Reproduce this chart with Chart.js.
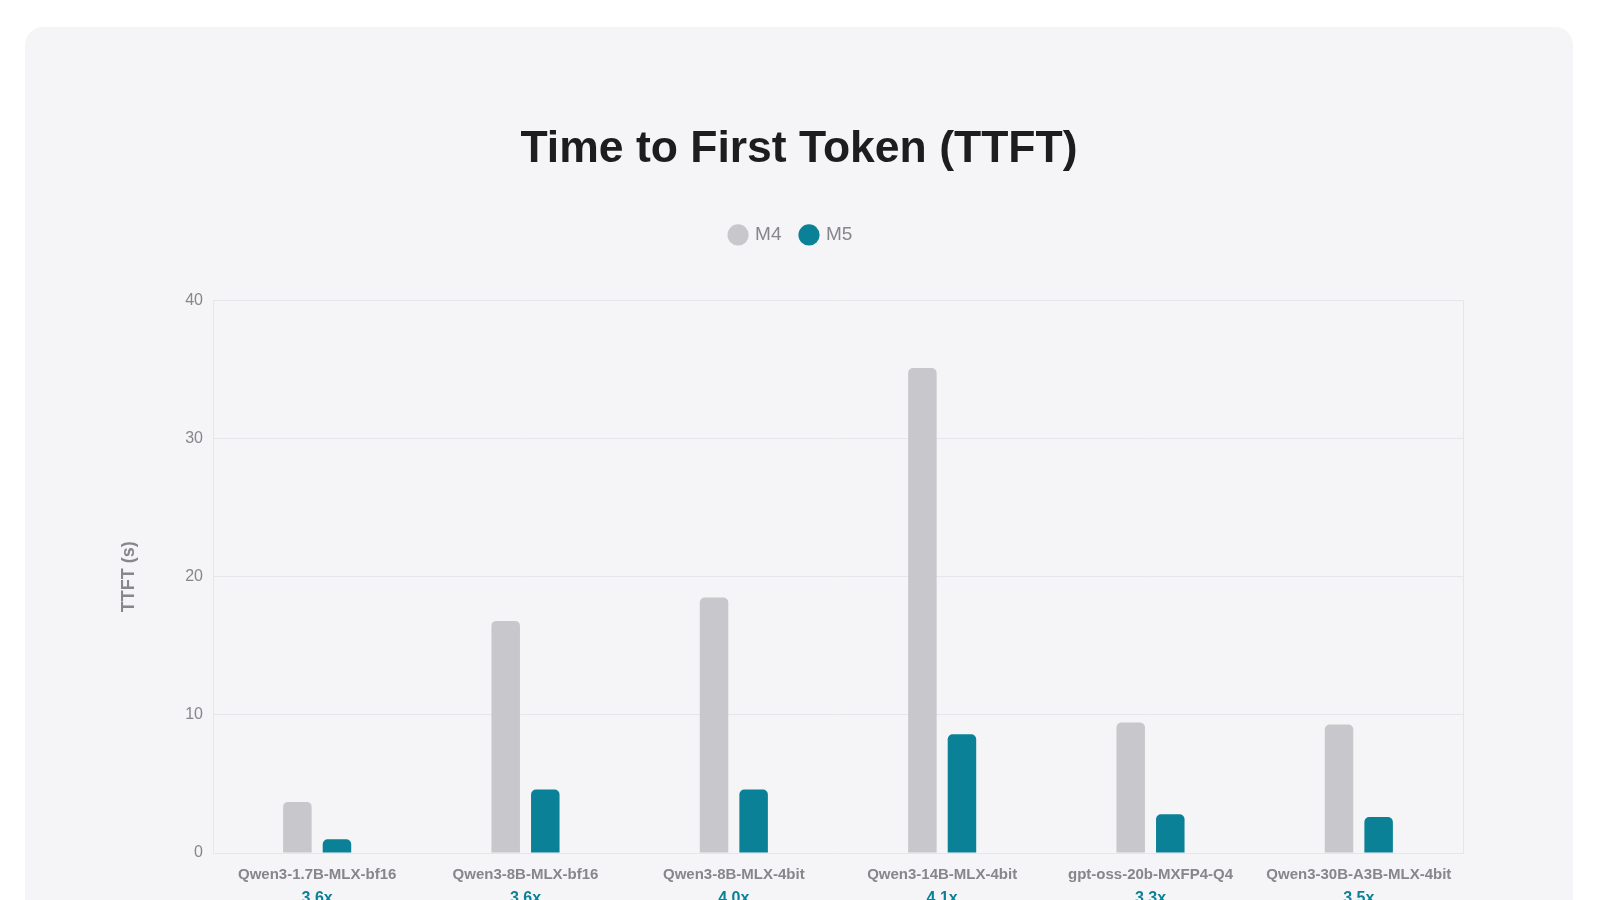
<!DOCTYPE html>
<html>
<head>
<meta charset="utf-8">
<script src="https://cdn.jsdelivr.net/npm/chart.js@4"></script>
<style>
  body { margin: 0; background: #ffffff; overflow: hidden; }
  .card {
    position: absolute; left: 25px; top: 27px;
    width: 1548px; height: 900px;
    background: #f5f5f7; border-radius: 18px;
  }
</style>
</head>
<body>
<div class="card"><canvas id="myChart" width="1548" height="900"></canvas></div>
<script>
const models = ["Qwen3-1.7B-MLX-bf16", "Qwen3-8B-MLX-bf16", "Qwen3-8B-MLX-4bit", "Qwen3-14B-MLX-4bit", "gpt-oss-20b-MXFP4-Q4", "Qwen3-30B-A3B-MLX-4bit"];
const speedups = ["3.6x", "3.6x", "4.0x", "4.1x", "3.3x", "3.5x"];
const m4 = [3.7, 16.8, 18.5, 35.1, 9.45, 9.3];
const m5 = [1.0, 4.6, 4.6, 8.6, 2.8, 2.6];
const yTicks = [0, 10, 20, 30, 40];

const gray = "#86868b";
const gridColor = "#e6e6ea";
const teal = "#0a8196";

Chart.defaults.font.family = "'Liberation Sans', Arial, Helvetica, sans-serif";

// more room under the legend, and nudge the legend row a little left
const legendGap = {
  id: "legendGap",
  beforeInit(chart) {
    const fit = chart.legend.fit;
    chart.legend.fit = function () {
      fit.bind(chart.legend)();
      this.height += 46;
      if (this.lineWidths) this.lineWidths[0] += 15;
    };
  },
};

const ctx = document.getElementById("myChart");

new Chart(ctx, {
  type: "bar",
  data: {
    labels: models,
    datasets: [
      {
        label: "M4",
        data: m4,
        backgroundColor: "#c7c7cc",
        borderRadius: 5,
        borderSkipped: "start",
        categoryPercentage: 0.38,
        barPercentage: 0.72,
      },
      {
        label: "M5",
        data: m5,
        backgroundColor: teal,
        borderRadius: 5,
        borderSkipped: "start",
        categoryPercentage: 0.38,
        barPercentage: 0.72,
      },
    ],
  },
  options: {
    responsive: false,
    animation: false,
    layout: { padding: { top: 0, left: 0, right: 0, bottom: 18 } },
    plugins: {
      title: {
        display: true,
        text: "Time to First Token (TTFT)",
        color: "#1d1d1f",
        font: { size: 44.5, weight: "bold" },
        padding: { top: 96, bottom: 29 },
      },
      legend: {
        labels: {
          usePointStyle: true,
          pointStyle: "circle",
          boxWidth: 15,
          boxHeight: 15,
          padding: 20,
          color: gray,
          font: { size: 19 },
        },
      },
      tooltip: { enabled: false },
    },
    scales: {
      x: {
        afterFit: (axis) => {
          axis.height = 36;
        },
        grid: { display: false, drawTicks: false },
        border: { color: gridColor },
        ticks: { color: gray, font: { size: 15, weight: "600" }, padding: 13, maxRotation: 0 },
      },
      x2: {
        type: "category",
        labels: speedups,
        position: "bottom",
        afterFit: (axis) => {
          axis.height = 20;
        },
        grid: { display: false, drawTicks: false },
        border: { display: false },
        ticks: { color: teal, font: { size: 16, weight: "bold" }, padding: 0 },
      },
      y: {
        min: 0,
        max: 40,
        afterBuildTicks: (axis) => {
          axis.ticks = yTicks.map((v) => ({ value: v }));
        },
        afterFit: (axis) => {
          axis.width = 188;
        },
        grid: { color: gridColor, drawTicks: false },
        border: { color: gridColor },
        ticks: { color: gray, font: { size: 16 }, padding: 10 },
        title: {
          display: true,
          text: "TTFT (s)",
          color: gray,
          font: { size: 18, weight: "bold" },
          padding: { top: 93, bottom: 45 },
        },
      },
      y2: {
        position: "right",
        afterFit: (axis) => {
          axis.width = 110;
        },
        grid: { display: false, drawTicks: false },
        border: { color: gridColor },
        ticks: { display: false },
      },
    },
  },
  plugins: [legendGap],
});
</script>
</body>
</html>
